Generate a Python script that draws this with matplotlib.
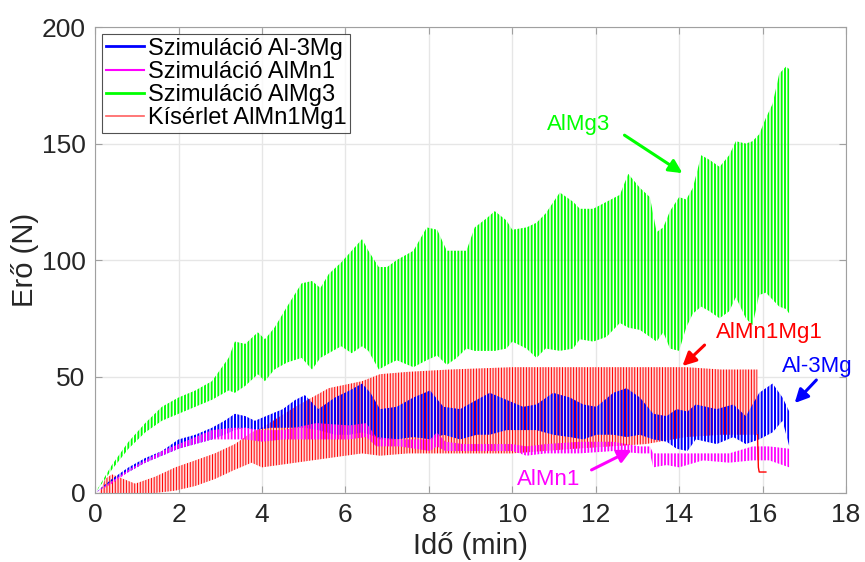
import matplotlib
matplotlib.use("Agg")
import matplotlib.pyplot as plt
import numpy as np

plt.rcParams['font.family'] = ['Liberation Sans', 'DejaVu Sans']

# Szimuláció AlMg3 (zöld) - burkológörbék
g_t = [0, 0.4, 0.8, 1.2, 1.6, 2.0, 2.4, 2.8, 3.2, 3.35, 3.6, 3.9, 4.07, 4.3, 4.6, 4.95,
       5.2, 5.4, 5.6, 5.9, 6.15, 6.4, 6.55, 6.8, 7.0, 7.23, 7.63, 7.95, 8.2, 8.43, 8.67,
       8.9, 9.1, 9.39, 9.58, 9.86, 10.0, 10.34, 10.58, 10.8, 11.14, 11.46, 11.62, 11.94,
       12.26, 12.58, 12.78, 13.06, 13.3, 13.46, 13.62, 13.78, 14.0, 14.17, 14.33, 14.53,
       14.73, 14.97, 15.2, 15.36, 15.6, 15.76, 15.92, 16.08, 16.24, 16.4, 16.56, 16.64]
g_up = [0, 12, 22, 30, 37, 41, 44, 48, 58, 65, 64, 69, 66, 71, 80, 90, 91, 88, 94, 99,
        104, 109, 104, 97, 97, 100, 104, 114, 113, 104, 104, 104, 114, 118, 121, 117, 113,
        114, 116, 120, 129, 125, 122, 122, 125, 128, 137, 131, 127, 112, 114, 121, 127,
        126, 131, 145, 143, 140, 145, 151, 150, 151, 154, 161, 167, 180, 183, 182]
g_lo = [0, 10, 19, 26, 31, 34, 37, 40, 44, 43, 46, 51, 48, 53, 56, 58, 53, 58, 60, 63,
        60, 63, 61, 53, 55, 57, 54, 57, 59, 55, 58, 62, 61, 61, 61, 62, 65, 62, 58, 62,
        61, 62, 66, 65, 67, 73, 71, 70, 67, 65, 69, 62, 61, 71, 77, 80, 78, 75, 78, 84,
        75, 72, 85, 86, 83, 80, 79, 77]

# Szimuláció Al-3Mg (kék)
b_t = [0, 0.4, 0.8, 1.2, 1.6, 2.0, 2.4, 2.8, 3.1, 3.35, 3.6, 3.83, 4.23, 4.5, 4.8, 5.03,
       5.35, 5.75, 6.1, 6.4, 6.6, 6.83, 7.23, 7.63, 8.03, 8.35, 8.75, 9.15, 9.46, 9.86,
       10.26, 10.58, 10.98, 11.38, 11.7, 12.02, 12.42, 12.74, 13.06, 13.38, 13.7, 13.94,
       14.2, 14.4, 14.9, 15.3, 15.6, 15.92, 16.24, 16.48, 16.64]
b_up = [0, 6, 11, 15, 18, 23, 25, 28, 31, 34, 33, 31, 34, 36, 40, 42, 36, 41, 44, 47, 43,
        36, 37, 41, 44, 37, 36, 40, 43, 40, 37, 38, 43, 41, 38, 37, 43, 45, 41, 34, 33,
        36, 35, 38, 36, 38, 33, 43, 47, 41, 35]
b_lo = [0, 5, 9, 13, 16, 19, 21, 23, 25, 27, 28, 27, 28, 28, 28, 28, 27, 25, 25, 26, 25,
        23, 23, 24, 23, 25, 23, 25, 25, 27, 27, 27, 25, 24, 23, 25, 25, 24, 25, 23, 22,
        19, 18, 23, 21, 24, 21, 23, 26, 31, 20]

# Szimuláció AlMn1 (magenta)
m_t = [0, 0.4, 0.8, 1.2, 1.6, 2.0, 2.4, 2.8, 3.3, 3.6, 4.0, 4.51, 5.3, 6.1, 6.5, 6.74,
       7.3, 8.03, 8.19, 8.4, 8.83, 10.0, 10.34, 10.8, 11.62, 12.42, 13.06, 13.3, 13.38,
       13.7, 14.0, 14.57, 15.2, 15.76, 16.16, 16.64]
m_up = [0, 5, 10, 14, 18, 21, 24, 27, 28, 28, 27, 27, 30, 29, 30, 24, 23, 23, 26, 22,
        21, 21, 20, 21, 22, 22, 20, 20, 17, 17, 17, 17, 17, 20, 20, 19]
m_lo = [0, 4, 9, 13, 16, 19, 21, 23, 23, 23, 22, 23, 23, 23, 24, 20, 20, 18, 20, 18,
        18, 18, 16, 17, 17, 18, 17, 17, 11, 12, 11, 14, 13, 14, 14, 11]

# Kísérlet AlMn1Mg1 (piros)
r_t = [0.1, 0.24, 0.4, 0.96, 1.44, 1.92, 2.4, 2.87, 3.35, 3.75, 4.0, 4.8, 5.6, 6.4, 6.83,
       7.5, 8.5, 10.0, 11.5, 13.2, 14.17, 15.0, 15.76, 15.88]
r_up = [0, 6, 8, 4, 7, 11, 14, 17, 21, 26, 28, 37, 45, 48, 51, 52, 53, 54, 54, 54, 54,
        53, 53, 53]
r_lo = [0, 0, 0, 0, 0, 1, 3, 6, 10, 13, 11, 13, 15, 17, 16, 17, 17, 17, 19, 21, 24, 25,
        25, 25]
r_tail_t = [15.88, 15.9, 15.92, 16.08]
r_tail_f = [25, 11, 9, 9]

# feliratok: szöveg helye, nyíl kezdete és vége
notes = [('AlMg3', '#00ff00', (11.59, 158), (12.69, 153.6), (14.08, 137.3)),
         ('AlMn1Mg1', '#ff0000', (16.17, 68.7), (14.61, 63.5), (14.08, 54.5)),
         ('Al-3Mg', '#0000ff', (17.32, 54.5), (17.29, 48.5), (16.77, 38.6)),
         ('AlMn1', '#ff00ff', (10.87, 6), (11.9, 9.9), (12.86, 18.5))]

fig = plt.figure(figsize=(8.65, 5.62), dpi=100)
ax = fig.add_axes([0.110, 0.1228, 0.868, 0.829])

plt.rcParams['hatch.linewidth'] = 1.4


def band(t, lo, up, color, hatch, hlw, z=2):
    fb = ax.fill_between(t, lo, up, facecolor='none', edgecolor=color, hatch=hatch,
                         linewidth=0, zorder=z)
    if hasattr(fb, 'set_hatch_linewidth'):
        fb.set_hatch_linewidth(hlw)
    return fb


ax.fill_between(r_t, r_lo, r_up, facecolor='#ffd6d6', linewidth=0, zorder=1)
band(r_t, r_lo, r_up, '#ff0000', '||||||', 0.7, z=1.5)
band(g_t, g_lo, g_up, '#00ff00', '|||||', 1.35, z=2)
band(b_t, b_lo, b_up, '#0000ff', '|||||', 1.45, z=3)
band(m_t, m_lo, m_up, '#ff00ff', '|||||', 1.3, z=4)
ax.plot(r_tail_t, r_tail_f, color='r', lw=1, zorder=5)

# legenda
ax.plot([], [], color='#0000ff', lw=2, label='Szimuláció Al-3Mg')
ax.plot([], [], color='#ff00ff', lw=1.5, label='Szimuláció AlMn1')
ax.plot([], [], color='#00ff00', lw=2, label='Szimuláció AlMg3')
ax.plot([], [], color='#ff6060', lw=1.2, label='Kísérlet AlMn1Mg1')
leg = ax.legend(loc='upper left', fontsize=17, frameon=True, fancybox=False,
                handlelength=1.6, handletextpad=0.2, borderpad=0.15, labelspacing=0.05,
                borderaxespad=0.3)
leg.get_frame().set_edgecolor('#262626')
leg.get_frame().set_linewidth(0.8)
leg.set_zorder(10)

for label, col, txt, a0, a1 in notes:
    ax.text(txt[0], txt[1], label, color=col, fontsize=16, ha='center', va='center',
            zorder=11)
    ax.annotate('', xy=a1, xytext=a0,
                arrowprops=dict(arrowstyle='-|>', color=col, lw=2.2, mutation_scale=20,
                                shrinkA=0, shrinkB=0), zorder=11)

ax.set_xlim(0, 18)
ax.set_ylim(0, 200)
ax.set_xticks(np.arange(0, 19, 2))
ax.set_yticks(np.arange(0, 201, 50))
ax.grid(True, color='#e6e6e6', lw=1)
ax.set_axisbelow(True)
for s in ax.spines.values():
    s.set_color('#a0a0a0')
    s.set_linewidth(0.8)
ax.tick_params(direction='in', length=5, labelsize=19, colors='#a0a0a0',
               labelcolor='#262626', top=True, right=True, pad=7)
ax.set_xlabel('Idő (min)', fontsize=21, color='#262626', labelpad=4)
ax.set_ylabel('Erő (N)', fontsize=21, color='#262626', labelpad=2)

fig.savefig('out.png', dpi=100)
